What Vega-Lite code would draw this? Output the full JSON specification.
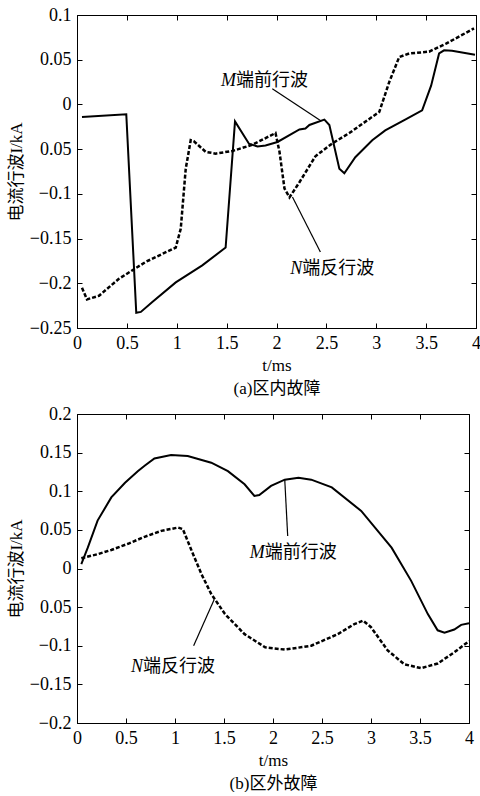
{
  "$schema": "https://vega.github.io/schema/vega-lite/v6.json",
  "padding": {"left": 6, "top": 5, "right": 0, "bottom": 0},
  "spacing": 7,
  "datasets": {
    "a": [
      {"s": "M", "t": 0.05, "v": -0.014},
      {"s": "M", "t": 0.494, "v": -0.011},
      {"s": "M", "t": 0.594, "v": -0.233},
      {"s": "M", "t": 0.64, "v": -0.232},
      {"s": "M", "t": 0.755, "v": -0.221},
      {"s": "M", "t": 0.99, "v": -0.199},
      {"s": "M", "t": 1.256, "v": -0.18},
      {"s": "M", "t": 1.49, "v": -0.16},
      {"s": "M", "t": 1.584, "v": -0.019},
      {"s": "M", "t": 1.724, "v": -0.044},
      {"s": "M", "t": 1.81, "v": -0.047},
      {"s": "M", "t": 1.89, "v": -0.046},
      {"s": "M", "t": 2.01, "v": -0.042},
      {"s": "M", "t": 2.23, "v": -0.028},
      {"s": "M", "t": 2.29, "v": -0.027},
      {"s": "M", "t": 2.33, "v": -0.023},
      {"s": "M", "t": 2.48, "v": -0.017},
      {"s": "M", "t": 2.53, "v": -0.023},
      {"s": "M", "t": 2.63, "v": -0.072},
      {"s": "M", "t": 2.68, "v": -0.077},
      {"s": "M", "t": 2.79, "v": -0.059},
      {"s": "M", "t": 2.96, "v": -0.04},
      {"s": "M", "t": 3.09, "v": -0.029},
      {"s": "M", "t": 3.29, "v": -0.017},
      {"s": "M", "t": 3.46, "v": -0.0066},
      {"s": "M", "t": 3.55, "v": 0.021},
      {"s": "M", "t": 3.63, "v": 0.057},
      {"s": "M", "t": 3.68, "v": 0.0605},
      {"s": "M", "t": 3.76, "v": 0.06},
      {"s": "M", "t": 3.99, "v": 0.0556},
      {"s": "N", "t": 0.05, "v": -0.205},
      {"s": "N", "t": 0.1, "v": -0.218},
      {"s": "N", "t": 0.22, "v": -0.214},
      {"s": "N", "t": 0.42, "v": -0.195},
      {"s": "N", "t": 0.69, "v": -0.176},
      {"s": "N", "t": 0.99, "v": -0.16},
      {"s": "N", "t": 1.04, "v": -0.139},
      {"s": "N", "t": 1.09, "v": -0.072},
      {"s": "N", "t": 1.14, "v": -0.04},
      {"s": "N", "t": 1.17, "v": -0.041},
      {"s": "N", "t": 1.29, "v": -0.053},
      {"s": "N", "t": 1.39, "v": -0.055},
      {"s": "N", "t": 1.56, "v": -0.052},
      {"s": "N", "t": 1.76, "v": -0.045},
      {"s": "N", "t": 1.99, "v": -0.032},
      {"s": "N", "t": 2.03, "v": -0.053},
      {"s": "N", "t": 2.08, "v": -0.094},
      {"s": "N", "t": 2.13, "v": -0.104},
      {"s": "N", "t": 2.23, "v": -0.087},
      {"s": "N", "t": 2.39, "v": -0.058},
      {"s": "N", "t": 2.56, "v": -0.0435},
      {"s": "N", "t": 2.73, "v": -0.032},
      {"s": "N", "t": 2.99, "v": -0.0115},
      {"s": "N", "t": 3.03, "v": -0.0085},
      {"s": "N", "t": 3.13, "v": 0.025},
      {"s": "N", "t": 3.23, "v": 0.053},
      {"s": "N", "t": 3.33, "v": 0.057},
      {"s": "N", "t": 3.53, "v": 0.059},
      {"s": "N", "t": 3.7, "v": 0.068},
      {"s": "N", "t": 3.98, "v": 0.085}
    ],
    "b": [
      {"s": "M", "t": 0.044, "v": 0.0056},
      {"s": "M", "t": 0.11, "v": 0.027},
      {"s": "M", "t": 0.21, "v": 0.062},
      {"s": "M", "t": 0.35, "v": 0.092},
      {"s": "M", "t": 0.49, "v": 0.111},
      {"s": "M", "t": 0.62, "v": 0.126},
      {"s": "M", "t": 0.69, "v": 0.133},
      {"s": "M", "t": 0.79, "v": 0.1425},
      {"s": "M", "t": 0.96, "v": 0.147},
      {"s": "M", "t": 1.13, "v": 0.1455},
      {"s": "M", "t": 1.37, "v": 0.137},
      {"s": "M", "t": 1.54, "v": 0.126},
      {"s": "M", "t": 1.71, "v": 0.109},
      {"s": "M", "t": 1.81, "v": 0.094},
      {"s": "M", "t": 1.86, "v": 0.095},
      {"s": "M", "t": 1.98, "v": 0.107},
      {"s": "M", "t": 2.12, "v": 0.115},
      {"s": "M", "t": 2.26, "v": 0.1175},
      {"s": "M", "t": 2.39, "v": 0.115},
      {"s": "M", "t": 2.6, "v": 0.105},
      {"s": "M", "t": 2.9, "v": 0.0745},
      {"s": "M", "t": 3.21, "v": 0.027},
      {"s": "M", "t": 3.41, "v": -0.016},
      {"s": "M", "t": 3.58, "v": -0.059},
      {"s": "M", "t": 3.68, "v": -0.08},
      {"s": "M", "t": 3.75, "v": -0.083},
      {"s": "M", "t": 3.85, "v": -0.079},
      {"s": "M", "t": 3.92, "v": -0.073},
      {"s": "M", "t": 4.0, "v": -0.071},
      {"s": "N", "t": 0.044, "v": 0.0133},
      {"s": "N", "t": 0.21, "v": 0.0185},
      {"s": "N", "t": 0.35, "v": 0.024},
      {"s": "N", "t": 0.52, "v": 0.032},
      {"s": "N", "t": 0.69, "v": 0.041},
      {"s": "N", "t": 0.86, "v": 0.0487},
      {"s": "N", "t": 1.03, "v": 0.053},
      {"s": "N", "t": 1.08, "v": 0.051},
      {"s": "N", "t": 1.17, "v": 0.023},
      {"s": "N", "t": 1.27, "v": -0.0073},
      {"s": "N", "t": 1.37, "v": -0.033},
      {"s": "N", "t": 1.51, "v": -0.059},
      {"s": "N", "t": 1.71, "v": -0.085},
      {"s": "N", "t": 1.92, "v": -0.102},
      {"s": "N", "t": 2.12, "v": -0.105},
      {"s": "N", "t": 2.39, "v": -0.1},
      {"s": "N", "t": 2.66, "v": -0.085},
      {"s": "N", "t": 2.83, "v": -0.072},
      {"s": "N", "t": 2.92, "v": -0.0675},
      {"s": "N", "t": 3.0, "v": -0.076},
      {"s": "N", "t": 3.17, "v": -0.106},
      {"s": "N", "t": 3.34, "v": -0.124},
      {"s": "N", "t": 3.51, "v": -0.129},
      {"s": "N", "t": 3.68, "v": -0.123},
      {"s": "N", "t": 3.85, "v": -0.1085},
      {"s": "N", "t": 4.0, "v": -0.094}
    ],
    "la": [
      {"letter": "M", "rest": "端前行波", "t": 1.594, "v": 0.026, "t1": 1.958, "v1": 0.0176, "t2": 2.44, "v2": -0.018},
      {"letter": "N", "rest": "端反行波", "t": 2.259, "v": -0.184, "t1": 2.16, "v1": -0.1036, "t2": 2.44, "v2": -0.165}
    ],
    "lb": [
      {"letter": "M", "rest": "端前行波", "t": 1.915, "v": 0.0207, "t1": 2.12, "v1": 0.115, "t2": 2.15, "v2": 0.042},
      {"letter": "N", "rest": "端反行波", "t": 0.673, "v": -0.128, "t1": 1.4, "v1": -0.04, "t2": 1.19, "v2": -0.1}
    ]
  },
  "vconcat": [
    {
      "width": 399,
      "height": 313,
      "resolve": {"axis": {"x": "independent", "y": "independent"}},
      "layer": [
        {
          "data": {"name": "a"},
          "transform": [{"filter": "datum.s == 'M'"}],
          "mark": {"type": "line", "color": "black", "strokeWidth": 2},
          "encoding": {
            "x": {"field": "t", "type": "quantitative", "scale": {"domain": [0, 4], "nice": false},
              "axis": {"values": [0, 0.5, 1, 1.5, 2, 2.5, 3, 3.5, 4], "format": "~g", "title": ["t/ms", "(a)区内故障"]}},
            "y": {"field": "v", "type": "quantitative", "scale": {"domain": [-0.25, 0.1], "nice": false, "zero": false},
              "axis": {"values": [-0.25, -0.2, -0.15, -0.1, -0.05, 0, 0.05, 0.1],
                "labelExpr": "(datum.value > -0.06 && datum.value < -0.04) ? '0.05' : format(datum.value, '~g')",
                "title": "电流行波I/kA"}}
          }
        },
        {
          "data": {"name": "a"},
          "transform": [{"filter": "datum.s == 'N'"}],
          "mark": {"type": "line", "color": "black", "strokeWidth": 2.5, "strokeDash": [4, 2]},
          "encoding": {
            "x": {"field": "t", "type": "quantitative", "axis": null},
            "y": {"field": "v", "type": "quantitative", "axis": null}
          }
        },
        {
          "data": {"name": "la"},
          "mark": {"type": "rule", "color": "black", "strokeWidth": 1.2},
          "encoding": {
            "x": {"field": "t1", "type": "quantitative",
              "axis": {"orient": "top", "values": [0, 0.5, 1, 1.5, 2, 2.5, 3, 3.5, 4], "labels": false, "domain": false, "title": null}},
            "y": {"field": "v1", "type": "quantitative",
              "axis": {"orient": "right", "values": [-0.25, -0.2, -0.15, -0.1, -0.05, 0, 0.05, 0.1], "labels": false, "domain": false, "title": null}},
            "x2": {"field": "t2"},
            "y2": {"field": "v2"}
          }
        },
        {
          "data": {"name": "la"},
          "mark": {"type": "text", "align": "right", "baseline": "middle", "fontSize": 18, "fontStyle": "italic", "font": "Liberation Serif"},
          "encoding": {
            "x": {"field": "t", "type": "quantitative", "axis": null},
            "y": {"field": "v", "type": "quantitative", "axis": null},
            "text": {"field": "letter"}
          }
        },
        {
          "data": {"name": "la"},
          "mark": {"type": "text", "align": "left", "baseline": "middle", "fontSize": 18, "font": "Liberation Serif, Noto Sans CJK SC"},
          "encoding": {
            "x": {"field": "t", "type": "quantitative", "axis": null},
            "y": {"field": "v", "type": "quantitative", "axis": null},
            "text": {"field": "rest"}
          }
        }
      ]
    },
    {
      "width": 392,
      "height": 309,
      "resolve": {"axis": {"x": "independent", "y": "independent"}},
      "layer": [
        {
          "data": {"name": "b"},
          "transform": [{"filter": "datum.s == 'M'"}],
          "mark": {"type": "line", "color": "black", "strokeWidth": 2},
          "encoding": {
            "x": {"field": "t", "type": "quantitative", "scale": {"domain": [0, 4], "nice": false},
              "axis": {"values": [0, 0.5, 1, 1.5, 2, 2.5, 3, 3.5, 4], "format": "~g", "title": ["t/ms", "(b)区外故障"]}},
            "y": {"field": "v", "type": "quantitative", "scale": {"domain": [-0.2, 0.2], "nice": false, "zero": false},
              "axis": {"values": [-0.2, -0.15, -0.1, -0.05, 0, 0.05, 0.1, 0.15, 0.2],
                "labelExpr": "(datum.value > -0.06 && datum.value < -0.04) ? '0.05' : format(datum.value, '~g')",
                "title": "电流行波I/kA"}}
          }
        },
        {
          "data": {"name": "b"},
          "transform": [{"filter": "datum.s == 'N'"}],
          "mark": {"type": "line", "color": "black", "strokeWidth": 2.5, "strokeDash": [4, 2]},
          "encoding": {
            "x": {"field": "t", "type": "quantitative", "axis": null},
            "y": {"field": "v", "type": "quantitative", "axis": null}
          }
        },
        {
          "data": {"name": "lb"},
          "mark": {"type": "rule", "color": "black", "strokeWidth": 1.2},
          "encoding": {
            "x": {"field": "t1", "type": "quantitative",
              "axis": {"orient": "top", "values": [0, 0.5, 1, 1.5, 2, 2.5, 3, 3.5, 4], "labels": false, "domain": false, "title": null}},
            "y": {"field": "v1", "type": "quantitative",
              "axis": {"orient": "right", "values": [-0.2, -0.15, -0.1, -0.05, 0, 0.05, 0.1, 0.15, 0.2], "labels": false, "domain": false, "title": null}},
            "x2": {"field": "t2"},
            "y2": {"field": "v2"}
          }
        },
        {
          "data": {"name": "lb"},
          "mark": {"type": "text", "align": "right", "baseline": "middle", "fontSize": 18, "fontStyle": "italic", "font": "Liberation Serif"},
          "encoding": {
            "x": {"field": "t", "type": "quantitative", "axis": null},
            "y": {"field": "v", "type": "quantitative", "axis": null},
            "text": {"field": "letter"}
          }
        },
        {
          "data": {"name": "lb"},
          "mark": {"type": "text", "align": "left", "baseline": "middle", "fontSize": 18, "font": "Liberation Serif, Noto Sans CJK SC"},
          "encoding": {
            "x": {"field": "t", "type": "quantitative", "axis": null},
            "y": {"field": "v", "type": "quantitative", "axis": null},
            "text": {"field": "rest"}
          }
        }
      ]
    }
  ],
  "config": {
    "font": "Liberation Serif",
    "view": {"stroke": "black", "strokeWidth": 1},
    "axis": {
      "grid": false,
      "domainColor": "black",
      "tickColor": "black",
      "tickSize": -5,
      "labelFont": "Liberation Serif",
      "labelFontSize": 18,
      "labelColor": "black",
      "labelPadding": 11,
      "labelFlush": false,
      "labelOverlap": false,
      "titleFont": "Liberation Serif, Noto Sans CJK SC",
      "titleFontSize": 17,
      "titleFontWeight": "normal",
      "titleColor": "black",
      "titleLineHeight": 23,
      "titlePadding": 4
    },
    "axisX": {"titlePadding": 5}
  }
}
